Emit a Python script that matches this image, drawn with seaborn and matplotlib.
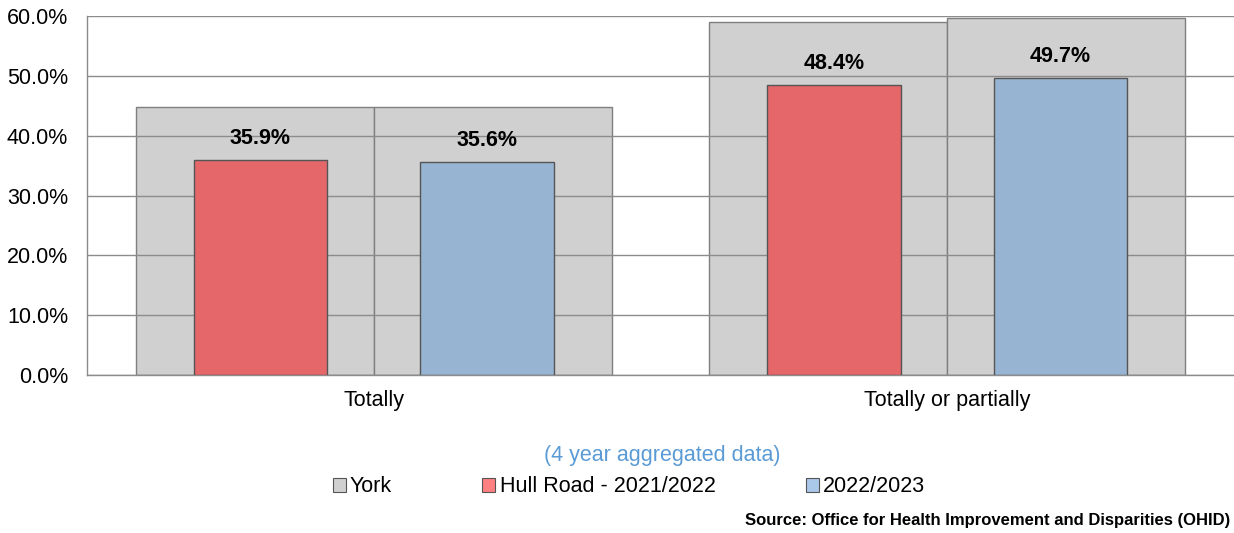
import numpy as np
import pandas as pd
import matplotlib
matplotlib.use("Agg")
import matplotlib.pyplot as plt
from matplotlib.patches import Patch
from matplotlib.ticker import FixedLocator
import seaborn as sns

categories = ["Totally", "Totally or partially"]
periods = ["2021/2022", "2022/2023"]
york = [[44.8, 44.8], [59.0, 59.6]]
hull_road = [[35.9, 35.6], [48.4, 49.7]]
legend_labels = ["York", "Hull Road - 2021/2022", "2022/2023"]

sns.set_style("white")
plt.rcParams["font.family"] = ["Liberation Sans", "DejaVu Sans"]
plt.rcParams["text.color"] = "black"
plt.rcParams["xtick.labelcolor"] = "black"
plt.rcParams["ytick.labelcolor"] = "black"

york_df = pd.DataFrame(
    [(c, p, york[i][j]) for i, c in enumerate(categories) for j, p in enumerate(periods)],
    columns=["category", "period", "value"])
hull_df = pd.DataFrame(
    [(c, p, hull_road[i][j]) for i, c in enumerate(categories) for j, p in enumerate(periods)],
    columns=["category", "period", "value"])

fig = plt.figure(figsize=(12.34, 5.33), dpi=100)
ax = fig.add_axes([0.0705, 0.2964, 0.9295, 0.6736])

# background York bars
sns.barplot(data=york_df, x="category", y="value", hue="period", order=categories,
            hue_order=periods, palette=["#D0D0D0", "#D0D0D0"], width=0.83,
            edgecolor="#7f7f7f", linewidth=1, saturation=1, legend=False, ax=ax,
            zorder=1)
n_before = len(ax.patches)

# Hull Road bars on top
sns.barplot(data=hull_df, x="category", y="value", hue="period", order=categories,
            hue_order=periods, palette=["#E5676A", "#97B4D2"], width=0.79,
            edgecolor="#555555", linewidth=1, saturation=1, legend=False, ax=ax,
            zorder=3)
for p in ax.patches[n_before:]:
    cx = p.get_x() + p.get_width() / 2
    p.set_width(0.233)
    p.set_x(cx - 0.233 / 2)
    ax.annotate(f"{p.get_height():.1f}%", (cx, p.get_height()),
                xytext=(0, 8), textcoords="offset points", ha="center",
                va="bottom", fontsize=15.5, fontweight="bold", zorder=5)

ax.set_xlim(-0.5, 1.5)
ax.set_ylim(0, 60)
ax.set_yticks(np.arange(0, 61, 10))
ax.set_yticklabels([f"{v:.1f}%" for v in np.arange(0, 61, 10)], fontsize=15.5)
ax.set_xticks(range(len(categories)))
ax.set_xticklabels(categories, fontsize=15.5)
ax.xaxis.set_minor_locator(FixedLocator([-0.5, 0.5, 1.5]))
ax.tick_params(axis="x", which="major", length=0, pad=11)
ax.tick_params(axis="x", which="minor", length=6, color="#8c8c8c", width=1)
ax.tick_params(axis="y", length=5, color="#8c8c8c", width=1, pad=8.5)
ax.set_xlabel("")
ax.set_ylabel("")

ax.set_axisbelow(False)
ax.yaxis.grid(True, color="#8c8c8c", linewidth=1, zorder=2)
for side in ["top", "right"]:
    ax.spines[side].set_visible(False)
for side in ["left", "bottom"]:
    ax.spines[side].set_color("#8c8c8c")
    ax.spines[side].set_linewidth(1)

fig.text(662 / 1234, 1 - 455 / 533, "(4 year aggregated data)", ha="center",
         va="center", fontsize=15.5, color="#5B9BD5")

handles = [Patch(facecolor=c, edgecolor="#555555", linewidth=0.8)
           for c in ["#D0D0D0", "#FF8080", "#A9C8EA"]]
fig.legend(handles, legend_labels, loc="center", bbox_to_anchor=(629 / 1234, 1 - 487 / 533),
           ncol=3, frameon=False, fontsize=15.5, handlelength=0.6, handleheight=0.6,
           handletextpad=0.2, columnspacing=4.2)

fig.text(1230 / 1234, 1 - 521 / 533, "Source: Office for Health Improvement and Disparities (OHID)",
         ha="right", va="center", fontsize=12, fontweight="bold")

fig.savefig("out.png", dpi=100)
